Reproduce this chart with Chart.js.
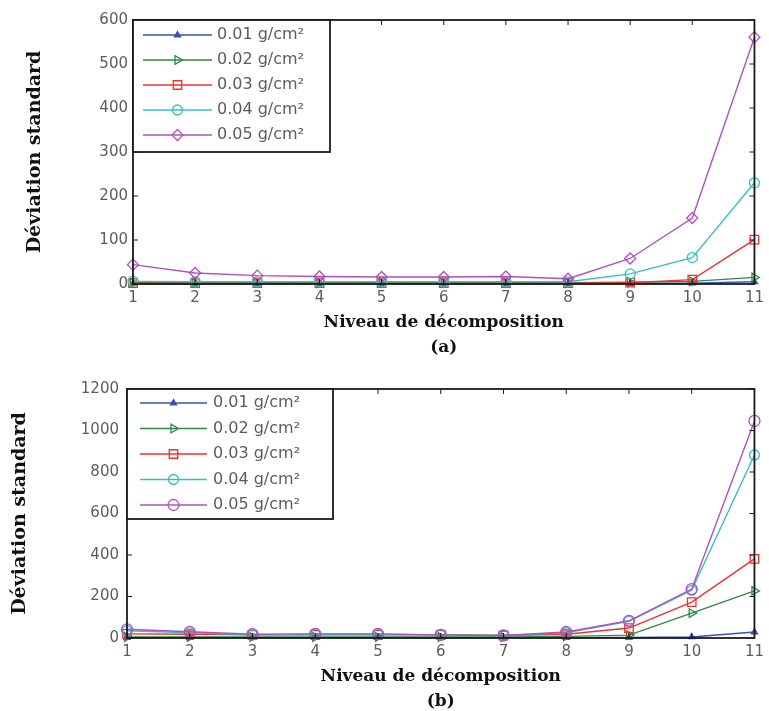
<!DOCTYPE html>
<html>
<head>
<meta charset="utf-8">
<script src="https://cdn.jsdelivr.net/npm/chart.js@4.4.0/dist/chart.umd.min.js"></script>
<style>
  html, body { margin: 0; padding: 0; background: #fff; overflow: hidden; }
  canvas { position: absolute; left: 0; }
  #chartA { top: 0; }
  #chartB { top: 360px; }
</style>
</head>
<body>
<canvas id="chartA" width="769" height="360"></canvas>
<canvas id="chartB" width="769" height="351"></canvas>
<script>
// decomposition levels (x axis)
const levels = [1, 2, 3, 4, 5, 6, 7, 8, 9, 10, 11];
const seriesLabels = ['0.01 g/cm²', '0.02 g/cm²', '0.03 g/cm²', '0.04 g/cm²', '0.05 g/cm²'];

// (a)
const a001 = [1, 1, 1, 1, 1, 1, 1, 1, 1, 2, 5];
const a002 = [3, 3, 3, 3, 3, 3, 3, 3, 4, 6, 15];
const a003 = [2, 2, 2, 2, 2, 2, 2, 2, 3, 10, 101];
const a004 = [6, 5, 5, 5, 5, 5, 5, 5, 23, 60, 230];
const a005 = [44, 25, 19, 17, 16, 16, 17, 12, 58, 150, 561];
const yTicksA = [0, 100, 200, 300, 400, 500, 600];

// (b)
const b001 = [2, 2, 2, 2, 2, 2, 2, 2, 3, 5, 29];
const b002 = [5, 5, 5, 5, 5, 5, 5, 8, 14, 120, 227];
const b003 = [20, 18, 15, 15, 15, 15, 12, 18, 48, 173, 381];
const b004 = [35, 25, 15, 18, 18, 15, 12, 25, 80, 230, 882];
const b005 = [42, 30, 18, 20, 20, 15, 12, 29, 83, 236, 1046];
const yTicksB = [0, 200, 400, 600, 800, 1000, 1200];

const tickFont = { family: '"DejaVu Sans", sans-serif', size: 15 };
const tickColor = '#5c5c5c';
const titleFont = { family: '"DejaVu Serif", serif', size: 17, weight: 'bold', lineHeight: 1.48 };

// marker look per series, in legend order
const looks = [
  { color: '#3a4fb8', pointStyle: 'triangle', rotation: 0, radius: 3.5, fill: '#3a4fb8' },
  { color: '#2e8b45', pointStyle: 'triangle', rotation: 90, radius: 5, fill: 'rgba(0,0,0,0)' },
  { color: '#f03030', pointStyle: 'rect', rotation: 0, radius: 6, fill: 'rgba(0,0,0,0)' },
  { color: '#35c0c0', pointStyle: 'circle', rotation: 0, radius: 5, fill: 'rgba(0,0,0,0)' },
  { color: '#b050c0', pointStyle: 'rectRot', rotation: 0, radius: 5.5, fill: 'rgba(0,0,0,0)' }
];

function makeDatasets(series, lastStyle) {
  return series.map((vals, i) => {
    const lk = looks[i];
    const style = (i === 4 && lastStyle) ? lastStyle : lk.pointStyle;
    return {
      label: seriesLabels[i],
      data: vals,
      borderColor: lk.color,
      backgroundColor: lk.color,
      borderWidth: 1.4,
      pointStyle: style,
      pointRotation: lk.rotation,
      pointRadius: lk.radius,
      pointHoverRadius: lk.radius,
      pointBorderWidth: 1.3,
      pointBorderColor: lk.color,
      pointBackgroundColor: lk.fill,
      tension: 0,
      clip: false,
      order: 5 - i
    };
  });
}

// axes box with inward ticks
const frame = {
  id: 'frame',
  afterDatasetsDraw(chart) {
    const { ctx, chartArea: a, scales } = chart;
    ctx.save();
    ctx.strokeStyle = '#1a1a1a';
    ctx.lineWidth = 1;
    scales.x.ticks.forEach((t, i) => {
      const px = scales.x.getPixelForTick(i);
      ctx.beginPath();
      ctx.moveTo(px, a.bottom); ctx.lineTo(px, a.bottom - 5);
      ctx.moveTo(px, a.top); ctx.lineTo(px, a.top + 5);
      ctx.stroke();
    });
    scales.y.ticks.forEach((t, i) => {
      const py = scales.y.getPixelForTick(i);
      ctx.beginPath();
      ctx.moveTo(a.left, py); ctx.lineTo(a.left + 5, py);
      ctx.moveTo(a.right, py); ctx.lineTo(a.right - 5, py);
      ctx.stroke();
    });
    ctx.lineWidth = 1.8;
    ctx.strokeRect(a.left, a.top, a.right - a.left, a.bottom - a.top);
    ctx.restore();
  }
};

// matlab-like legend box in the upper left corner
const boxLegend = {
  id: 'boxLegend',
  afterDatasetsDraw(chart, args, opts) {
    const { ctx, chartArea } = chart;
    const x0 = chartArea.left, y0 = chartArea.top;
    ctx.save();
    ctx.fillStyle = '#fff';
    ctx.fillRect(x0, y0, opts.width, opts.height);
    ctx.strokeStyle = '#1a1a1a';
    ctx.lineWidth = 1.8;
    ctx.strokeRect(x0, y0, opts.width, opts.height);
    ctx.font = '16px "DejaVu Sans", sans-serif';
    ctx.textBaseline = 'middle';
    ctx.textAlign = 'left';
    chart.data.datasets.forEach((ds, i) => {
      const y = y0 + opts.firstRow + i * opts.rowGap;
      ctx.strokeStyle = ds.borderColor;
      ctx.lineWidth = ds.borderWidth;
      ctx.beginPath();
      ctx.moveTo(x0 + opts.lineStart, y);
      ctx.lineTo(x0 + opts.lineEnd, y);
      ctx.stroke();
      ctx.fillStyle = ds.pointBackgroundColor;
      ctx.strokeStyle = ds.pointBorderColor;
      ctx.lineWidth = ds.pointBorderWidth;
      Chart.helpers.drawPoint(ctx, {
        pointStyle: ds.pointStyle, rotation: ds.pointRotation,
        radius: ds.pointRadius, borderWidth: ds.pointBorderWidth
      }, x0 + (opts.lineStart + opts.lineEnd) / 2, y);
      ctx.fillStyle = tickColor;
      ctx.fillText(ds.label, x0 + opts.textStart, y);
    });
    ctx.restore();
  }
};

function makeChart(id, series, yTicks, step, cfg) {
  return new Chart(document.getElementById(id), {
    type: 'line',
    data: { labels: levels.map(String), datasets: makeDatasets(series, cfg.lastStyle) },
    options: {
      responsive: false,
      animation: false,
      devicePixelRatio: 1,
      layout: { padding: cfg.padding },
      plugins: {
        legend: { display: false },
        tooltip: { enabled: false },
        boxLegend: cfg.legend
      },
      scales: {
        x: {
          type: 'category',
          offset: false,
          grid: { display: false, drawTicks: false },
          border: { display: false },
          ticks: { font: tickFont, color: tickColor, padding: 5, maxRotation: 0 },
          title: {
            display: true,
            text: ['Niveau de décomposition', cfg.tag],
            font: titleFont,
            color: '#111',
            padding: { top: 0, bottom: cfg.titleBottom }
          },
          afterFit(scale) { scale.height = cfg.xHeight; }
        },
        y: {
          min: yTicks[0],
          max: yTicks[yTicks.length - 1],
          grid: { display: false, drawTicks: false },
          border: { display: false },
          ticks: {
            stepSize: step, font: tickFont, color: tickColor, padding: cfg.yPad,
            callback: (v) => String(v)
          },
          title: {
            display: true,
            text: 'Déviation standard',
            font: { family: '"DejaVu Serif", serif', size: 19, weight: 'bold', lineHeight: 1.2 },
            color: '#111',
            padding: { top: cfg.yTitleLeft, bottom: 0 }
          },
          afterFit(scale) { scale.width = cfg.yWidth; }
        }
      }
    },
    plugins: [frame, boxLegend]
  });
}

makeChart('chartA', [a001, a002, a003, a004, a005], yTicksA, 100, {
  tag: '(a)',
  padding: { left: 0, right: 12, top: 20, bottom: 0 },
  xHeight: 76, yWidth: 133, yPad: 5, yTitleLeft: 24, titleBottom: 0,
  legend: { width: 197, height: 132, firstRow: 15, rowGap: 25, lineStart: 10, lineEnd: 79, textStart: 84 }
});

makeChart('chartB', [b001, b002, b003, b004, b005], yTicksB, 200, {
  tag: '(b)',
  lastStyle: 'circle',
  padding: { left: 0, right: 7, top: 29, bottom: 0 },
  xHeight: 73, yWidth: 127, yPad: 8, yTitleLeft: 9, titleBottom: -3,
  legend: { width: 206, height: 130, firstRow: 14, rowGap: 25.5, lineStart: 13, lineEnd: 80, textStart: 86 }
});
</script>
</body>
</html>
